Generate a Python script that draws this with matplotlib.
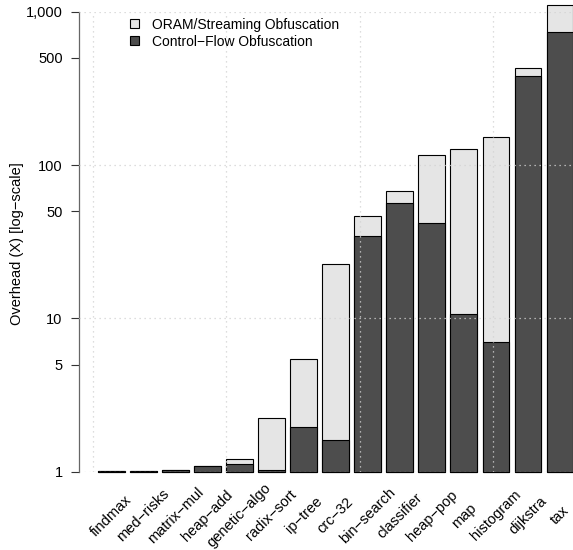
import numpy as np
import matplotlib
matplotlib.use("Agg")
import matplotlib.pyplot as plt
from matplotlib.patches import Patch
import matplotlib.transforms as mtransforms

plt.rcParams['font.family'] = ['Liberation Sans', 'DejaVu Sans']

# ---- data ----
names = ["findmax", "med\u2212risks", "matrix\u2212mul", "heap\u2212add", "genetic\u2212algo",
         "radix\u2212sort", "ip\u2212tree", "crc\u221232", "bin\u2212search", "classifier",
         "heap\u2212pop", "map", "histogram", "dijkstra", "tax"]
total_overhead = [1.01, 1.01, 1.03, 1.09, 1.21, 2.25, 5.4, 22.6, 46.5, 68, 116, 127, 153, 432, 1107]
control_flow = [1.01, 1.01, 1.03, 1.09, 1.12, 1.02, 1.96, 1.61, 34.6, 56.6, 41.9, 10.7, 7.0, 381, 735]
ytick_vals = [1, 5, 10, 50, 100, 500, 1000]
ytick_labels = ["1", "5", "10", "50", "100", "500", "1,000"]
legend_labels = ["ORAM/Streaming Obfuscation", "Control\u2212Flow Obfuscation"]

LIGHT = "#E5E5E5"
DARK = "#4D4D4D"
FS = 10.5

W, H = 573, 550
fig = plt.figure(figsize=(W / 100, H / 100), dpi=100)
left_px, right_px = 79.0, 592.3
bot_px, top_px = 471.7, 11.8
ax = fig.add_axes([left_px / W, (H - bot_px) / H, (right_px - left_px) / W, (bot_px - top_px) / H])
ax.set_yscale('log')

n = len(names)
x = 0.7 + 1.2 * np.arange(n)
tot = np.array(total_overhead)
ctl = np.array(control_flow)
ax.bar(x, tot - 1, bottom=1, width=1, color=LIGHT, edgecolor="black", linewidth=0.8,
       clip_on=False, zorder=2)
ax.bar(x, ctl - 1, bottom=1, width=1, color=DARK, edgecolor="black", linewidth=0.8,
       clip_on=False, zorder=3)

ax.set_ylim(1, 1000)
ax.set_xlim(-0.512, 18.712)

# grid (drawn over bars)
for gy in [1, 10, 100, 1000]:
    ax.axhline(gy, color="#D3D3D3", linestyle=(0, (1, 3)), linewidth=0.9, zorder=5)
for gx in [0, 5, 10, 15]:
    ax.axvline(gx, color="#D3D3D3", linestyle=(0, (1, 3)), linewidth=0.9, zorder=5)

# axes styling
for s in ["top", "right", "bottom"]:
    ax.spines[s].set_visible(False)
ax.spines["left"].set_color("#666666")
ax.spines["left"].set_linewidth(0.9)
ax.set_yticks(ytick_vals)
ax.set_yticklabels(ytick_labels)
ax.yaxis.set_minor_locator(matplotlib.ticker.NullLocator())
ax.tick_params(axis='y', length=5.8, width=0.8, pad=6.0, labelsize=FS, color="#333333")
ax.set_xticks([])

# x labels (rotated, centered)
trans = mtransforms.blended_transform_factory(ax.transData, ax.transAxes)
ylab = -(515.5 - bot_px) / (bot_px - top_px)
for xi, nm in zip(x, names):
    ax.text(xi, ylab, nm, transform=trans, rotation=45, ha='center', va='center',
            fontsize=FS, clip_on=False)

fig.text(17 / W, 1 - 244 / H, "Overhead (X) [log\u2212scale]", rotation=90,
         ha='center', va='center', fontsize=FS)

handles = [Patch(facecolor=LIGHT, edgecolor="black", linewidth=0.8),
           Patch(facecolor=DARK, edgecolor="black", linewidth=0.8)]
fig.legend(handles, legend_labels, loc='upper left', bbox_to_anchor=(129.5 / W, 1 - 17.5 / H),
           frameon=False, fontsize=10, handlelength=0.65, handleheight=0.65,
           handletextpad=1.0, labelspacing=0.22, borderpad=0, borderaxespad=0)

fig.savefig("out.png", dpi=100)
